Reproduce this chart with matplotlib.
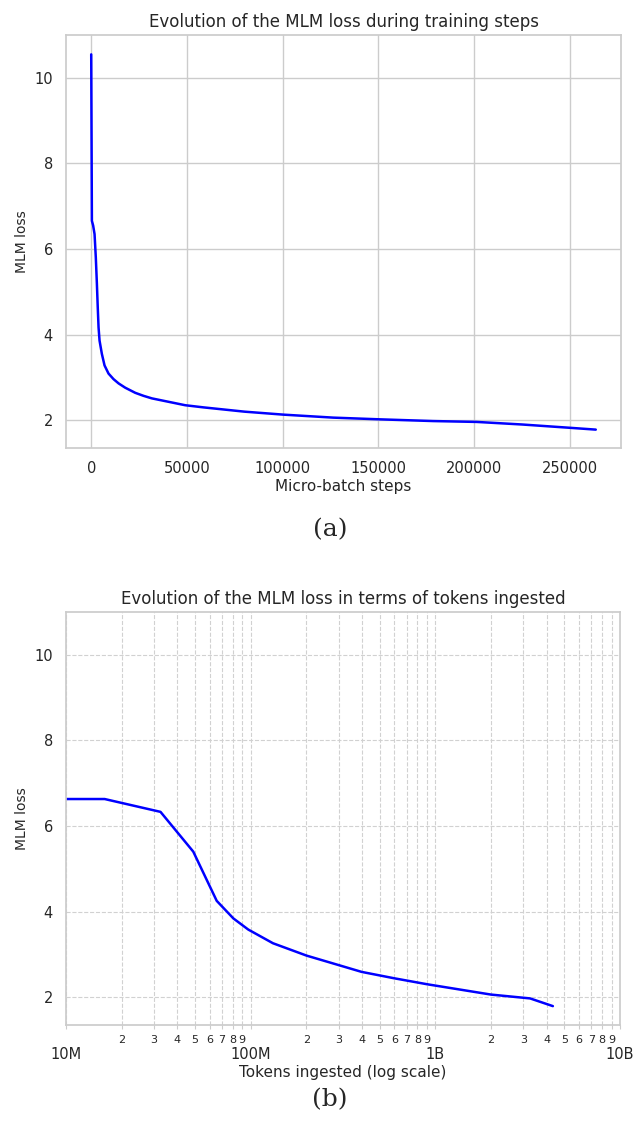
import numpy as np
import matplotlib
matplotlib.use("Agg")
import matplotlib.pyplot as plt
import matplotlib.ticker as mticker
import seaborn as sns

sns.set_theme(style="whitegrid")
plt.rcParams['font.family'] = ['DejaVu Sans']

# (a) loss per micro-batch step
steps = [0, 350, 1000, 1740, 2400, 2960, 3400, 3830, 4350, 5560, 6960, 9040,
         11650, 14300, 17750, 23000, 27300, 31700, 40400, 49100, 58600, 80000,
         100400, 126500, 150900, 178700, 201300, 225000, 250900, 263600]
step_loss = [10.55, 6.66, 6.55, 6.35, 5.80, 5.19, 4.65, 4.17, 3.86, 3.55, 3.28,
             3.09, 2.96, 2.86, 2.76, 2.64, 2.57, 2.51, 2.43, 2.35, 2.30, 2.20,
             2.13, 2.06, 2.02, 1.98, 1.96, 1.90, 1.82, 1.78]

# (b) loss vs tokens ingested
tokens = [8.2e6, 16.2e6, 32.5e6, 48.9e6, 65.5e6, 80.6e6, 97e6, 132e6, 201e6,
          299e6, 399e6, 600e6, 906e6, 2.0e9, 3.26e9, 4.33e9]
token_loss = [6.63, 6.63, 6.33, 5.40, 4.25, 3.84, 3.58, 3.26, 2.97,
              2.75, 2.59, 2.44, 2.30, 2.06, 1.97, 1.79]

major_ticks = [1e7, 1e8, 1e9, 1e10]
major_labels = ['10M', '100M', '1B', '10B']

fig = plt.figure(figsize=(6.37, 11.22), dpi=100)
ax1 = fig.add_axes([0.1036, 0.6007, 0.8713, 0.368])
ax2 = fig.add_axes([0.1036, 0.0865, 0.8697, 0.368])

ax1.plot(steps, step_loss, color='blue', lw=1.8)
ax1.set_title('Evolution of the MLM loss during training steps', fontsize=12)
ax1.set_xlabel('Micro-batch steps', fontsize=11, labelpad=2)
ax1.set_ylabel('MLM loss', fontsize=10)
ax1.set_ylim(1.35, 11.0)
ax1.set_yticks([2, 4, 6, 8, 10])
ax1.tick_params(labelsize=10.5)

ax2.plot(tokens, token_loss, color='blue', lw=1.8)
ax2.set_xscale('log')
ax2.set_xlim(1e7, 1e10)
ax2.set_ylim(1.35, 11.0)
ax2.set_yticks([2, 4, 6, 8, 10])
ax2.xaxis.set_major_locator(mticker.FixedLocator(major_ticks))
ax2.xaxis.set_major_formatter(mticker.FixedFormatter(major_labels))
ax2.xaxis.set_minor_locator(mticker.LogLocator(base=10, subs=np.arange(2, 10), numticks=20))
ax2.xaxis.set_minor_formatter(mticker.FuncFormatter(
    lambda v, p: str(int(round(v / 10 ** np.floor(np.log10(v) + 1e-9))))))
ax2.tick_params(axis='x', which='both', bottom=True, length=3, width=0.8, color='0.8')
ax2.tick_params(axis='x', which='major', labelsize=10.5, pad=13)
ax2.tick_params(axis='x', which='minor', labelsize=8, pad=4)
ax2.tick_params(axis='y', labelsize=10.5)
ax2.grid(True, which='both', linestyle='--', color='0.82', lw=0.8)
ax2.set_title('Evolution of the MLM loss in terms of tokens ingested', fontsize=12)
ax2.set_xlabel('Tokens ingested (log scale)', fontsize=11, labelpad=2)
ax2.set_ylabel('MLM loss', fontsize=10)

for ax in (ax1, ax2):
    for s in ax.spines.values():
        s.set_color('0.8')

fig.text(0.518, 0.5276, '(a)', ha='center', va='center', fontsize=18, family='DejaVu Serif')
fig.text(0.518, 0.0196, '(b)', ha='center', va='center', fontsize=18, family='DejaVu Serif')

fig.savefig('out.png', dpi=100)
